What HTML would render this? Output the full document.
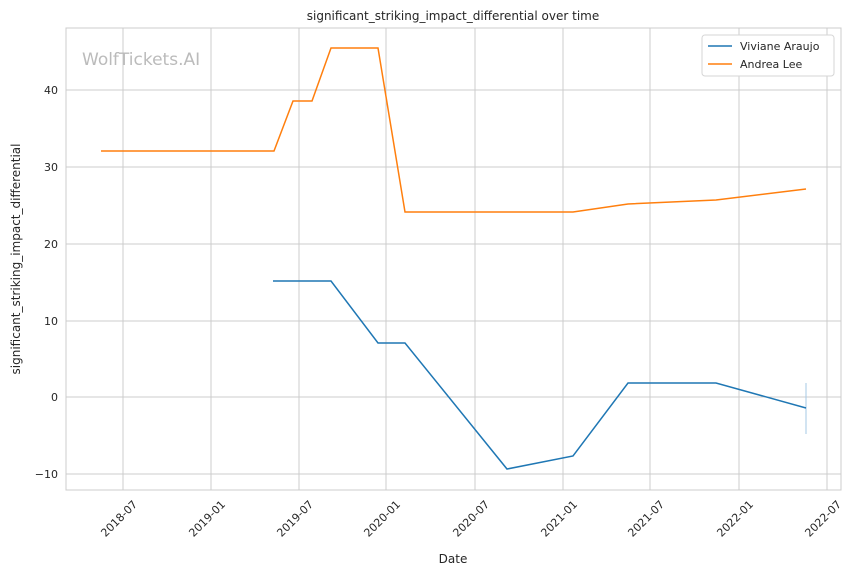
<!DOCTYPE html>
<html><head><meta charset="utf-8"><style>
body{margin:0;background:#fff;}
svg text{font-family:"DejaVu Sans","Liberation Sans",sans-serif;fill:#262626;}
</style></head><body>
<svg width="861" height="575" viewBox="0 0 861 575" xmlns="http://www.w3.org/2000/svg">
<rect width="861" height="575" fill="#fff"/>
<g stroke="#cccccc" stroke-width="1">
<line x1="123" y1="28" x2="123" y2="490"/><line x1="211" y1="28" x2="211" y2="490"/>
<line x1="299" y1="28" x2="299" y2="490"/><line x1="386" y1="28" x2="386" y2="490"/>
<line x1="475" y1="28" x2="475" y2="490"/><line x1="563" y1="28" x2="563" y2="490"/>
<line x1="650" y1="28" x2="650" y2="490"/><line x1="739" y1="28" x2="739" y2="490"/>
<line x1="827" y1="28" x2="827" y2="490"/>
<line x1="66" y1="90" x2="841" y2="90"/><line x1="66" y1="167" x2="841" y2="167"/>
<line x1="66" y1="244" x2="841" y2="244"/><line x1="66" y1="321" x2="841" y2="321"/>
<line x1="66" y1="397" x2="841" y2="397"/><line x1="66" y1="474" x2="841" y2="474"/>
</g>
<rect x="66" y="28" width="775" height="462" fill="none" stroke="#cccccc" stroke-width="1"/>
<text x="82" y="65" font-size="17" style="fill:#bbbbbb">WolfTickets.AI</text>
<line x1="806" y1="383" x2="806" y2="434" stroke="#a6c8e6" stroke-width="1"/>
<polyline fill="none" stroke="#ff7f0e" stroke-width="1.5" points="101,151 274,151 293,101 312,101 331,48 378,48 405,212 573,212 628,204 716,200 806,189"/>
<polyline fill="none" stroke="#1f77b4" stroke-width="1.5" points="273,281 331,281 378,343 405,343 507,469 573,456 628,383 716,383 806,408"/>
<g font-size="11" text-anchor="end">
<text x="58" y="94">40</text><text x="58" y="171">30</text><text x="58" y="248">20</text>
<text x="58" y="325">10</text><text x="58" y="401">0</text><text x="58" y="478">−10</text>
</g>
<g font-size="11" text-anchor="end">
<text transform="translate(138,505) rotate(-45)">2018-07</text>
<text transform="translate(226,505) rotate(-45)">2019-01</text>
<text transform="translate(314,505) rotate(-45)">2019-07</text>
<text transform="translate(401,505) rotate(-45)">2020-01</text>
<text transform="translate(490,505) rotate(-45)">2020-07</text>
<text transform="translate(578,505) rotate(-45)">2021-01</text>
<text transform="translate(665,505) rotate(-45)">2021-07</text>
<text transform="translate(754,505) rotate(-45)">2022-01</text>
<text transform="translate(842,505) rotate(-45)">2022-07</text>
</g>
<text x="453" y="563" font-size="12" text-anchor="middle">Date</text>
<text transform="translate(20,259) rotate(-90)" font-size="12" text-anchor="middle">significant_striking_impact_differential</text>
<text x="453" y="20" font-size="12" text-anchor="middle">significant_striking_impact_differential over time</text>
<rect x="702" y="35" width="132" height="41" rx="3" fill="#fff" stroke="#d6d6d6"/>
<line x1="708" y1="46" x2="732" y2="46" stroke="#1f77b4" stroke-width="1.5"/>
<text x="740" y="50" font-size="11">Viviane Araujo</text>
<line x1="708" y1="64" x2="732" y2="64" stroke="#ff7f0e" stroke-width="1.5"/>
<text x="740" y="68" font-size="11">Andrea Lee</text>
</svg>
</body></html>
